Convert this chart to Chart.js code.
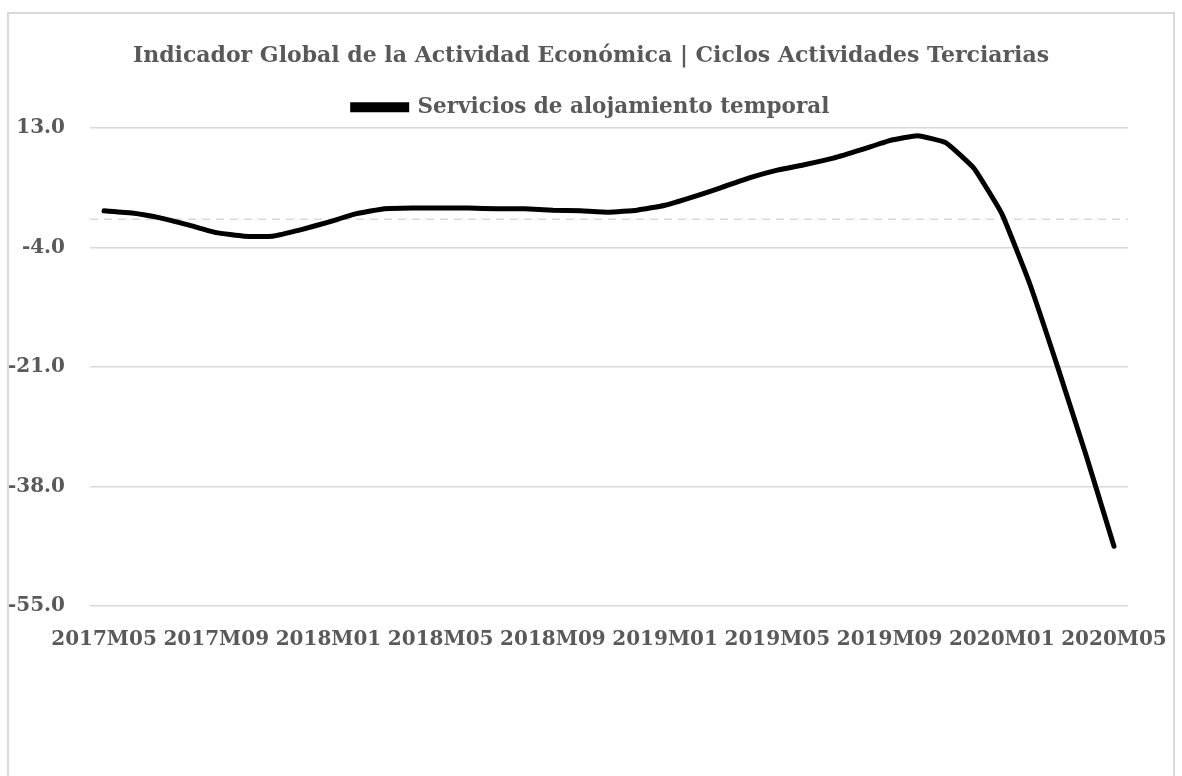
<!DOCTYPE html>
<html>
<head>
<meta charset="utf-8">
<script src="https://cdn.jsdelivr.net/npm/chart.js@4.4.1/dist/chart.umd.min.js"></script>
<style>
  html, body { margin: 0; padding: 0; background: #ffffff; overflow: hidden; }
  #frame {
    position: absolute; left: 7px; top: 12px; width: 1168px; height: 800px;
    border: 2px solid #d9d9d9; box-sizing: border-box;
  }
  #wrap { position: absolute; left: 0; top: 0; width: 1182px; height: 776px; }
</style>
</head>
<body>
<div id="frame"></div>
<div id="wrap"><canvas id="chart" width="1182" height="776"></canvas></div>
<script>
// Categories (monthly, 2017M05 - 2020M05)
const months = [
  "2017M05", "2017M06", "2017M07", "2017M08", "2017M09", "2017M10", "2017M11", "2017M12",
  "2018M01", "2018M02", "2018M03", "2018M04", "2018M05", "2018M06", "2018M07", "2018M08",
  "2018M09", "2018M10", "2018M11", "2018M12", "2019M01", "2019M02", "2019M03", "2019M04",
  "2019M05", "2019M06", "2019M07", "2019M08", "2019M09", "2019M10", "2019M11", "2019M12",
  "2020M01", "2020M02", "2020M03", "2020M04", "2020M05",
]

// Servicios de alojamiento temporal (ciclo)
const alojamiento = [
  1.2, 0.9, 0.2, -0.8, -1.9, -2.4, -2.4, -1.5,
  -0.4, 0.8, 1.5, 1.6, 1.6, 1.6, 1.5, 1.5,
  1.3, 1.2, 1.0, 1.3, 2.0, 3.2, 4.5, 5.9,
  7.0, 7.8, 8.7, 9.9, 11.2, 11.9, 10.9, 7.3,
  0.8, -9.2, -21.1, -33.5, -46.5,
]

// Y axis ticks
const yTicks = [13.0, -4.0, -21.0, -38.0, -55.0]

const textColor = "#595959"
const gridColor = "#d9d9d9"
const fontFamily = "'DejaVu Serif', serif"

// dashed line at zero
const zeroLine = {
  id: "zeroLine",
  beforeDatasetsDraw(chart) {
    const { ctx, chartArea } = chart
    const y = chart.scales.y.getPixelForValue(0)
    ctx.save()
    ctx.strokeStyle = gridColor
    ctx.lineWidth = 1.5
    ctx.setLineDash([8, 6])
    ctx.beginPath()
    ctx.moveTo(chartArea.left, y)
    ctx.lineTo(chartArea.right, y)
    ctx.stroke()
    ctx.restore()
  },
}

new Chart(document.getElementById("chart"), {
  type: "line",
  data: {
    labels: months,
    datasets: [
      {
        label: "Servicios de alojamiento temporal",
        data: alojamiento,
        borderColor: "#000000",
        backgroundColor: "#000000",
        borderWidth: 5,
        pointRadius: 0,
        tension: 0.12,
        borderCapStyle: "round",
      },
    ],
  },
  options: {
    responsive: false,
    animation: false,
    layout: {
      padding: { left: 9, right: 9, top: 43, bottom: 102 },
    },
    scales: {
      y: {
        min: Math.min(...yTicks),
        max: Math.max(...yTicks),
        afterBuildTicks: (scale) => {
          scale.ticks = yTicks.map((v) => ({ value: v }))
        },
        afterFit: (scale) => {
          scale.width = 81
        },
        border: { display: false },
        grid: { color: gridColor, lineWidth: 1.5, drawTicks: false },
        ticks: {
          padding: 25,
          color: textColor,
          font: { family: fontFamily, size: 20, weight: "bold" },
          callback: (value) => Number(value).toFixed(1),
        },
      },
      // empty right-side spacer so the title stays centred on the frame
      spacer: {
        type: "linear",
        position: "right",
        display: true,
        border: { display: false },
        grid: { display: false, drawTicks: false },
        ticks: { display: false },
        afterFit: (scale) => {
          scale.width = 45
        },
      },
      x: {
        offset: true,
        border: { display: false },
        grid: { display: false, drawTicks: false },
        afterFit: (scale) => {
          scale.paddingLeft = 0
          scale.paddingRight = 0
        },
        ticks: {
          autoSkip: false,
          maxRotation: 0,
          padding: 22,
          color: textColor,
          font: { family: fontFamily, size: 20, weight: "bold" },
          callback: (value, index) => (index % 4 === 0 ? months[index] : ""),
        },
      },
    },
    plugins: {
      title: {
        display: true,
        text: "Indicador Global de la Actividad Económica | Ciclos Actividades Terciarias",
        color: textColor,
        font: { family: fontFamily, size: 22, weight: "bold" },
        padding: { top: 0, bottom: 16 },
      },
      legend: {
        display: true,
        position: "top",
        labels: {
          color: textColor,
          boxWidth: 54,
          boxHeight: 5,
          padding: 11,
          font: { family: fontFamily, size: 21.5, weight: "bold" },
        },
      },
      tooltip: { enabled: false },
    },
  },
  plugins: [zeroLine],
})
</script>
</body>
</html>
